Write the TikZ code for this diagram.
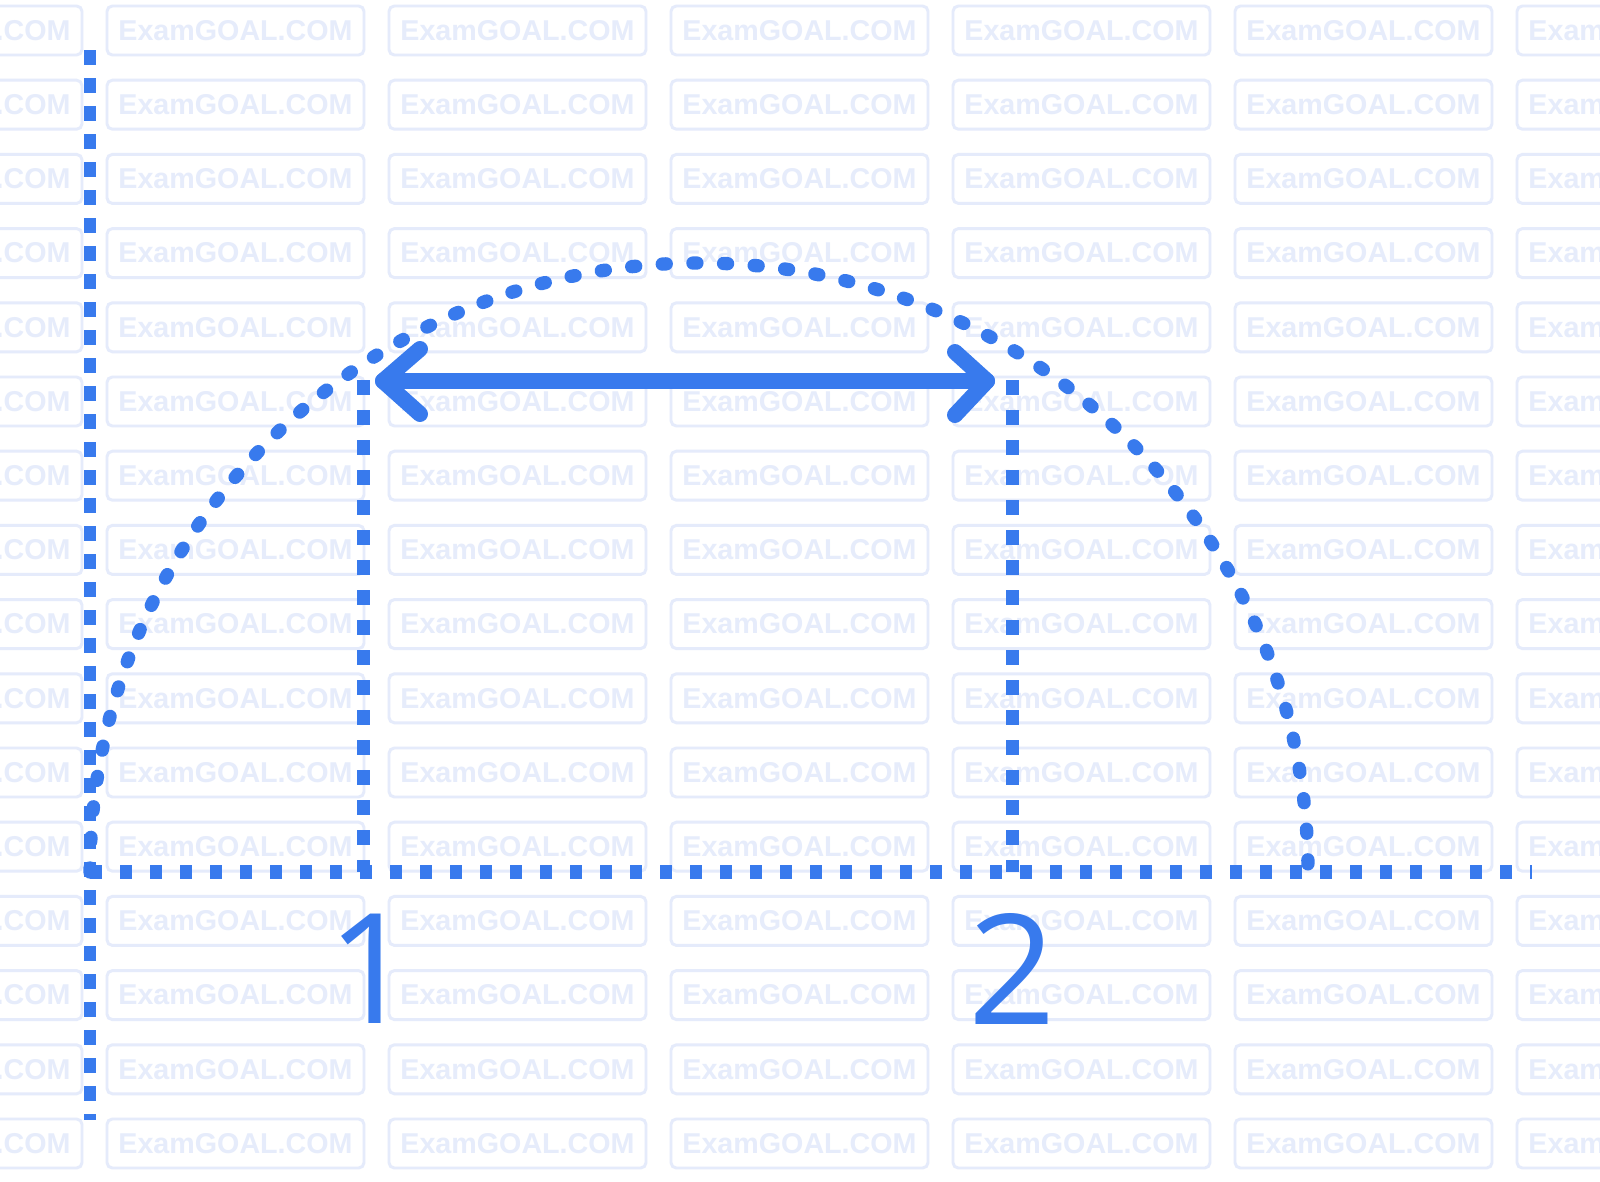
\documentclass[tikz,border=0pt]{standalone}
\usepackage{fontspec}
\newfontfamily\digitfont{Open Sans}
\newfontfamily\wmfont{Liberation Sans}
\definecolor{inkblue}{RGB}{56,122,237}
\definecolor{wmline}{RGB}{229,235,251}
\definecolor{wmtext}{RGB}{230,236,251}
\begin{document}
\begin{tikzpicture}[x=0.75pt,y=-0.75pt,
  wmbox/.style={draw=wmline,line width=2.2pt,rounded corners=4pt,
    minimum width=192.75pt,minimum height=36.75pt,inner sep=0pt,
    font=\wmfont\bfseries\fontsize{21.5}{21.5}\selectfont,text=wmtext},
  yaxisdots/.style={draw=inkblue,line width=9pt,dash pattern=on 11.25pt off 9.75pt},
  xaxisdots/.style={draw=inkblue,line width=10.5pt,dash pattern=on 9pt off 13.5pt},
  arcdots/.style={draw=inkblue,line width=10pt,line cap=round,dash pattern=on 3pt off 20pt},
  vdots/.style={draw=inkblue,line width=9.75pt,dash pattern=on 11.25pt off 11.25pt},
  arrowline/.style={draw=inkblue,line width=12pt,line cap=round,line join=round},
  digit/.style={font=\digitfont\fontsize{115}{115}\selectfont,text=inkblue,inner sep=0pt}
]
\useasboundingbox (0,0) rectangle (1600,1182);
\fill[white] (0,0) rectangle (1600,1182);
\begin{scope}
  \clip (0,0) rectangle (1600,1182);
  \foreach \c in {-1,...,5}{
    \foreach \r in {0,...,15}{
      \node[wmbox,name=wm\c r\r] at ({235.5+282*\c},{30.5+74.2*\r}) {ExamGOAL.COM};
    }
  }
\end{scope}

% named points
\coordinate (O) at (90,872);
\coordinate (ytop) at (90,50);
\coordinate (ybot) at (90,1120);
\coordinate (xend) at (1532,872);
\coordinate (T1) at (363,380);
\coordinate (F1) at (363,872);
\coordinate (T2) at (1012,380);
\coordinate (F2) at (1012,872);
\coordinate (A) at (383,381);
\coordinate (B) at (987,381);

% axes
\draw[yaxisdots] (ytop) -- (ybot);
\draw[xaxisdots] (O) -- (xend);

% trajectory
\draw[arcdots] (O) arc[start angle=180,end angle=0,radius=456.75pt];

% verticals
\draw[vdots] (T1) -- (F1);
\draw[vdots] (T2) -- (F2);

% double arrow
\draw[arrowline] (A) -- (B);
\draw[arrowline] ([shift={(37,-32)}]A) -- (A) -- ([shift={(37,33)}]A);
\draw[arrowline] ([shift={(-32,-29)}]B) -- (B) -- ([shift={(-32,34)}]B);

% labels
\node[digit] (lab1) at (371,969) {1};
\node[digit] (lab2) at (1012,969) {2};
\end{tikzpicture}
\end{document}
